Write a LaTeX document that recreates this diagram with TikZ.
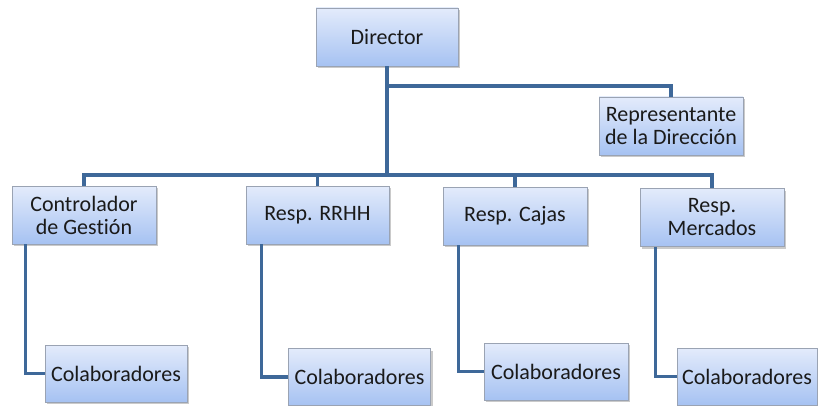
\documentclass[tikz,border=0pt]{standalone}
\usepackage{fontspec}
\setmainfont{Carlito}[Ligatures=NoCommon]
\usetikzlibrary{shadows}
\definecolor{linec}{HTML}{3E6899}
\definecolor{topc}{HTML}{E3EBFB}
\definecolor{botc}{HTML}{A6C2F2}
\definecolor{edgec}{HTML}{9AA3B3}
\definecolor{txtc}{HTML}{1A1A1A}
\tikzset{
  box/.style={draw=edgec, line width=0.8pt, top color=topc, bottom color=botc,
    minimum width=144pt, minimum height=58pt, inner sep=2pt, align=center,
    text=txtc, font=\fontsize{22}{23}\selectfont,
    drop shadow={shadow xshift=2pt, shadow yshift=-2pt, opacity=0.35, fill=black!60}},
  conn/.style={draw=linec, line width=3.3pt, line join=miter}
}
\begin{document}
\begin{tikzpicture}[x=1pt,y=-1pt]
\useasboundingbox (0,0) rectangle (818,406);
\node[box, minimum width=142pt] (dir) at (387,37) {Director};
\node[box] (rep) at (671,126) {Representante\\de la Dirección};
\node[box] (ctrl) at (84,215) {Controlador\\de Gestión};
\node[box, minimum width=143pt] (rrhh) at (317.5,215) {Resp. RRHH};
\node[box] (caj) at (515,216) {Resp. Cajas};
\node[box] (merc) at (712,217.5) {Resp.\\Mercados};
\node[box, minimum width=142pt, minimum height=57pt] (c1) at (116,373.5) {Colaboradores};
\node[box, minimum width=142pt, minimum height=57pt] (c2) at (359.5,377) {Colaboradores};
\node[box, minimum height=57pt] (c3) at (556,371.5) {Colaboradores};
\node[box, minimum width=140pt, minimum height=57pt] (c4) at (747,376.5) {Colaboradores};
\coordinate (bus) at (0,175);
\coordinate (rj) at (387,86);
\draw[conn] (dir.south) -- (rj) -| (rep.north);
\draw[conn] (dir.south) -- (dir.south |- bus);
\draw[conn] ([xshift=-1.65pt]ctrl.north |- bus) -- ([xshift=1.65pt]merc.north |- bus);
\draw[conn] (ctrl.north |- bus) -- (ctrl.north);
\draw[conn] (rrhh.north |- bus) -- (rrhh.north);
\draw[conn] (caj.north |- bus) -- (caj.north);
\draw[conn] (merc.north |- bus) -- (merc.north);
\draw[conn] ([xshift=14pt]ctrl.south west) |- (c1.west);
\draw[conn] ([xshift=16pt]rrhh.south west) |- (c2.west);
\draw[conn] ([xshift=16pt]caj.south west) |- (c3.west);
\draw[conn] ([xshift=16pt]merc.south west) |- (c4.west);
\end{tikzpicture}
\end{document}
